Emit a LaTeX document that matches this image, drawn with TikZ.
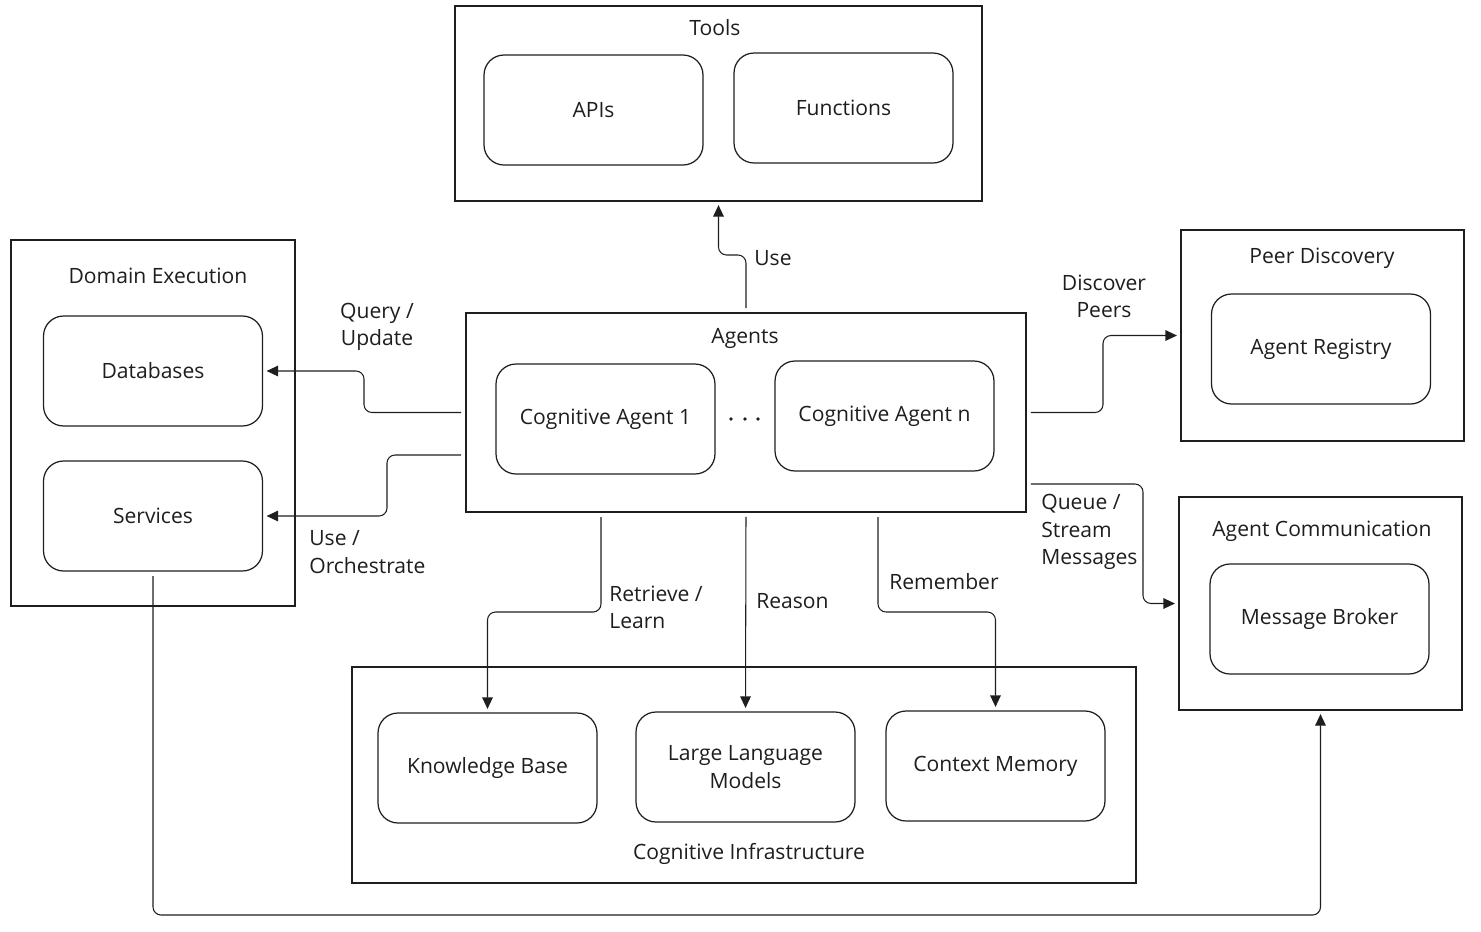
\documentclass[tikz,border=0pt]{standalone}
\usepackage{fontspec}
\setmainfont{Open Sans}
\usetikzlibrary{arrows.meta, calc}
\definecolor{ink}{HTML}{1E1E1E}

\begin{document}
\begin{tikzpicture}[x=0.02cm, y=-0.02cm,
    every node/.style={font=\fontsize{12}{15.5}\selectfont, text=ink},
    grp/.style={draw=ink, line width=0.7pt, inner sep=0pt},
    comp/.style={draw=ink, line width=0.7pt, rounded corners=0.4cm,
      minimum width=4.38cm, minimum height=2.2cm, align=center},
    lbl/.style={align=left, anchor=west, inner sep=0pt},
    flow/.style={draw=ink, line width=0.6pt, rounded corners=0.16cm,
      -{Triangle[length=6.5pt, width=6pt]}, shorten <=2.5pt, shorten >=2pt}]
  \useasboundingbox (0,0) rectangle (1481,931);

  % group boxes
  \node[grp, minimum width=10.54cm, minimum height=3.90cm] (tools) at (718.5,103.5) {};
  \node[grp, minimum width=5.68cm, minimum height=7.32cm] (domain) at (153,423) {};
  \node[grp, minimum width=11.2cm, minimum height=3.98cm] (agents) at (746,412.5) {};
  \node[grp, minimum width=5.66cm, minimum height=4.22cm] (peer) at (1322.5,335.5) {};
  \node[grp, minimum width=5.66cm, minimum height=4.26cm] (comm) at (1320.5,603.5) {};
  \node[grp, minimum width=15.68cm, minimum height=4.32cm] (infra) at (744,775) {};

  % titles
  \node (toolsT) at (715,28) {Tools};
  \node (domainT) at (158,276) {Domain Execution};
  \node (agentsT) at (745,338) {Agents};
  \node (peerT) at (1322,258) {Peer Discovery};
  \node (commT) at (1322,531) {Agent Communication};
  \node (infraT) at (749,854) {Cognitive Infrastructure};

  % components
  \node[comp] (apis) at (593.5,110) {APIs};
  \node[comp] (funcs) at (843.5,108) {Functions};
  \node[comp] (db) at (153,371) {Databases};
  \node[comp] (svc) at (153,516) {Services};
  \node[comp] (ca1) at (605.5,419) {Cognitive Agent 1};
  \node[comp] (can) at (884.5,416) {Cognitive Agent n};
  \node[comp] (reg) at (1321,349) {Agent Registry};
  \node[comp] (broker) at (1319.5,619) {Message Broker};
  \node[comp] (kb) at (487.5,768) {Knowledge Base};
  \node[comp] (llm) at (745.5,767) {Large Language\\Models};
  \node[comp] (mem) at (995.5,766) {Context Memory};

  % dots between the agents
  \foreach \x in {731,745,758} \fill[ink] (\x,419) circle (1.1pt);

  % connectors
  \draw[flow] (agents.north) -- (746,255) -| (tools.south);
  \draw[flow] (agents.west) -- (364,412.5) |- (db.east);
  \draw[flow] ($(agents.west)+(0,42.5)$) -- (387,455) |- (svc.east);
  \draw[flow] (agents.east) -- (1103,412.5) |- (peer.west);
  \draw[flow] ($(agents.east)+(0,71.5)$) -- (1143,484) |- (comm.west);
  \draw[flow] ($(agents.south)+(-145,0)$) -- (601,612) -| (kb.north);
  \draw[flow] (agents.south) -- (llm.north);
  \draw[flow] ($(agents.south)+(132,0)$) -- (878,612) -| (mem.north);
  \draw[flow] (svc.south) -- (153,915) -| (comm.south);

  % connector labels
  \node[lbl] (useL) at (754,258) {Use};
  \node[align=center, inner sep=0pt] (queryL) at (377,327) {Query /\\Update};
  \node[lbl] (orchL) at (309,552) {Use /\\Orchestrate};
  \node[align=center, inner sep=0pt] (discL) at (1104,296) {Discover\\Peers};
  \node[lbl] (queueL) at (1041,532) {Queue /\\Stream\\Messages};
  \node[lbl] (retrL) at (609,607) {Retrieve /\\Learn};
  \node[lbl] (reasL) at (756,601) {Reason};
  \node[lbl] (remL) at (889,582) {Remember};
\end{tikzpicture}
\end{document}
